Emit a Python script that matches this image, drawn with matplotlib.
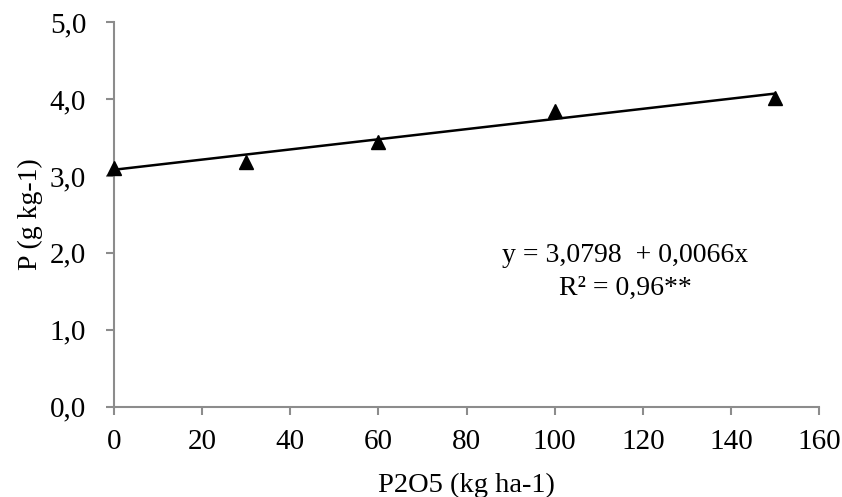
import matplotlib
matplotlib.use("Agg")
import matplotlib.pyplot as plt
import numpy as np

# Data
doses = [0, 30, 60, 100, 150]
p_values = [3.10, 3.18, 3.44, 3.84, 4.01]
intercept = 3.0798
slope = 0.0066
x_ticks = [0, 20, 40, 60, 80, 100, 120, 140, 160]
y_ticks = [0.0, 1.0, 2.0, 3.0, 4.0, 5.0]
y_tick_labels = ["0,0", "1,0", "2,0", "3,0", "4,0", "5,0"]
equation = "y = 3,0798  + 0,0066x"
r2_text = "R² = 0,96**"
x_label = "P2O5 (kg ha-1)"
y_label = "P (g kg-1)"

plt.rcParams['font.family'] = ['Liberation Serif', 'DejaVu Serif']

fig = plt.figure(figsize=(8.42, 4.97), dpi=100)
ax = fig.add_axes([0.1354, 0.1817, 0.8373, 0.7740])

fit_x = np.array([doses[0], doses[-1]])
ax.plot(fit_x, intercept + slope * fit_x, color='black', lw=1.8, zorder=2)
ax.plot(doses, p_values, linestyle='none', marker='^', markersize=10,
        color='black', zorder=3, clip_on=False)

ax.set_xlim(0, 160)
ax.set_ylim(0, 5)
ax.set_xticks(x_ticks)
ax.set_xticklabels([str(v) for v in x_ticks])
ax.set_yticks(y_ticks)
ax.set_yticklabels(y_tick_labels)

for s in ['top', 'right']:
    ax.spines[s].set_visible(False)
for s in ['left', 'bottom']:
    ax.spines[s].set_color('#8c8c8c')
    ax.spines[s].set_linewidth(1.5)

ax.tick_params(axis='both', colors='#8c8c8c', length=6, width=1.5,
               labelsize=21, labelcolor='black', direction='out')
ax.tick_params(axis='y', pad=14)
ax.tick_params(axis='x', pad=10)

ax.set_xlabel(x_label, fontsize=20.5, labelpad=13)
ax.set_ylabel(y_label, fontsize=20, labelpad=5)

ax.text(116, 1.96, equation, fontsize=20, ha='center', va='center')
ax.text(116, 1.54, r2_text, fontsize=20, ha='center', va='center')

fig.savefig("out.png", dpi=100, facecolor='white')
